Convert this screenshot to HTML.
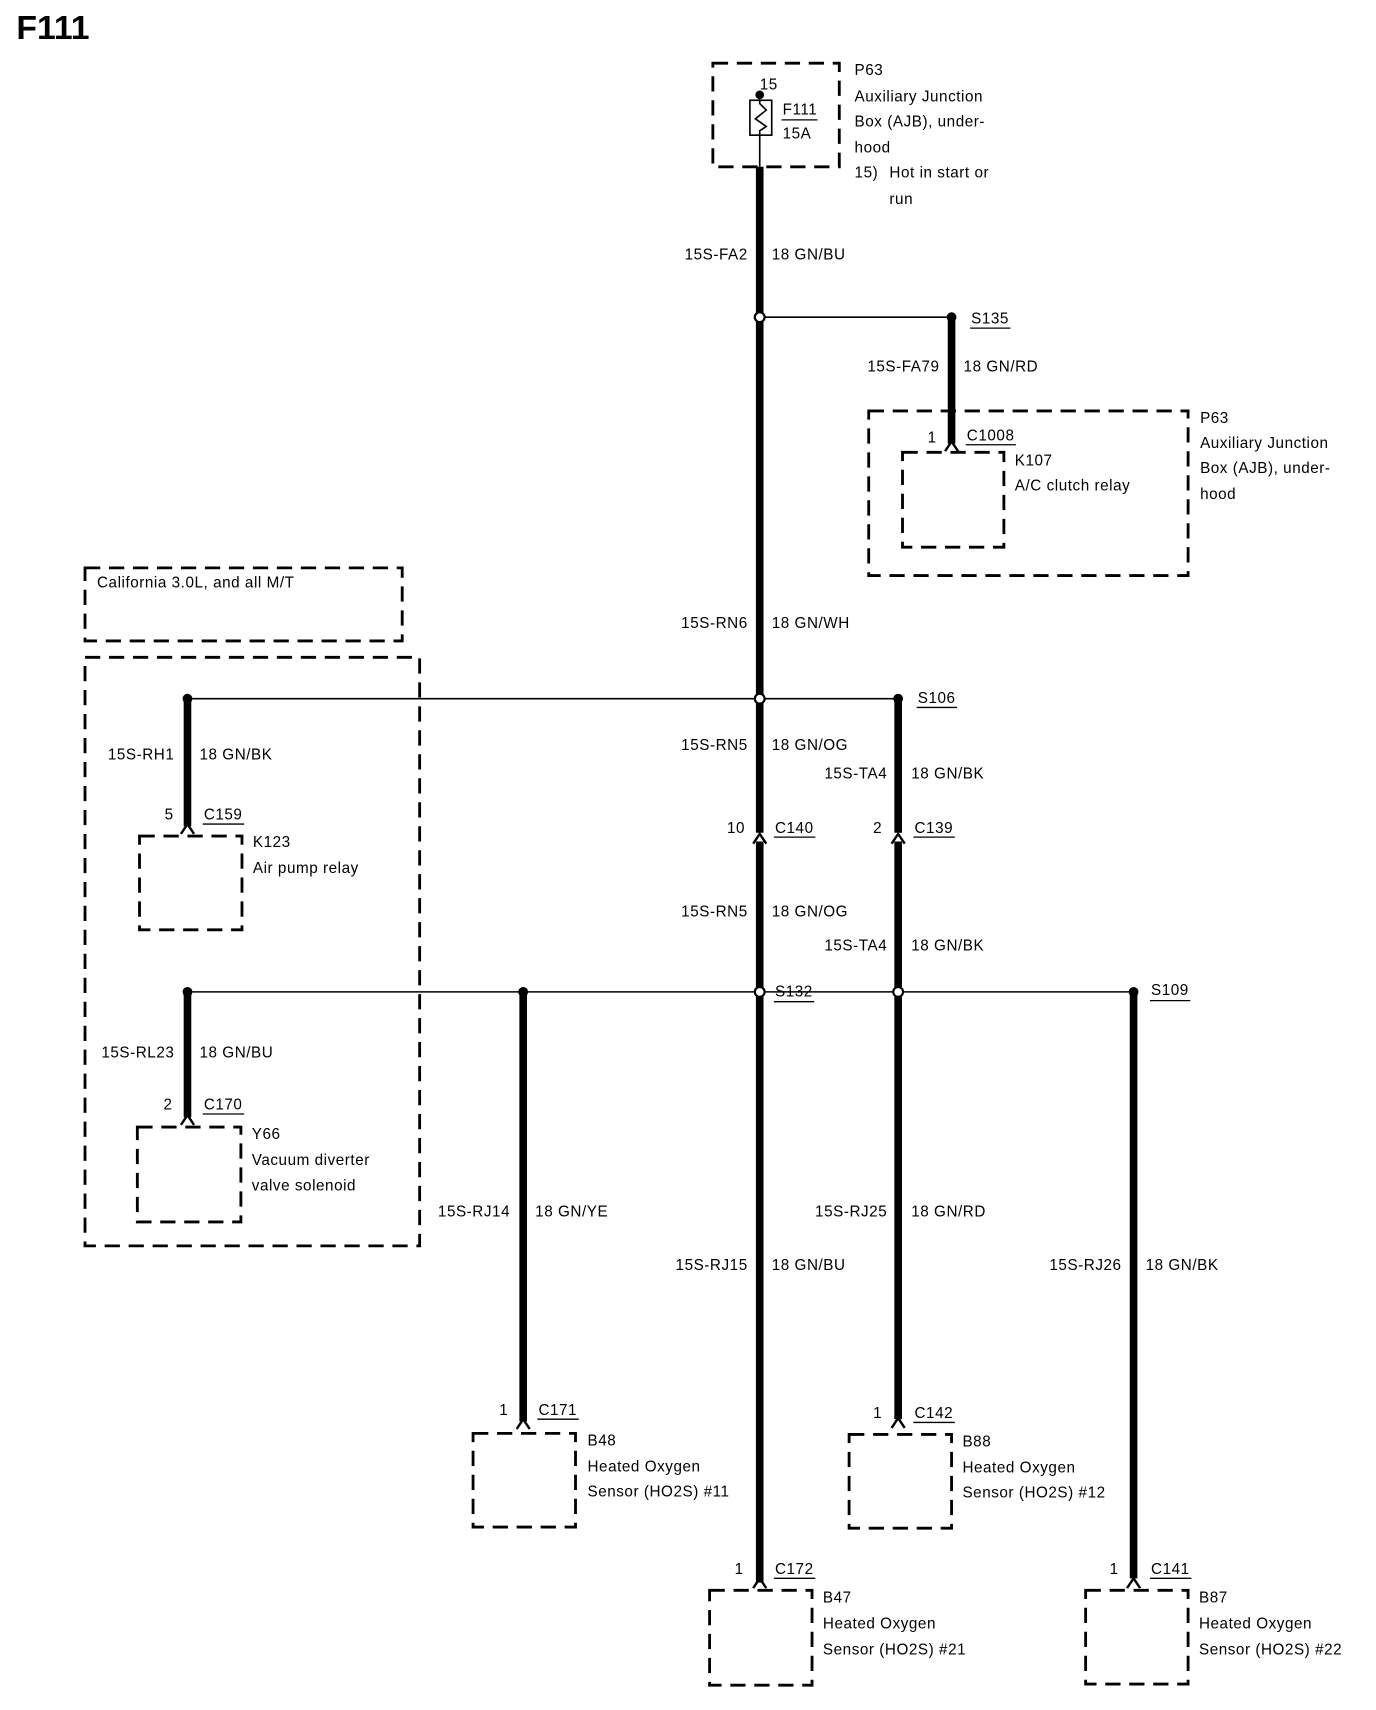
<!DOCTYPE html>
<html><head><meta charset="utf-8"><style>
html,body{margin:0;padding:0;background:#fff;}
svg{display:block;}
text{font-family:"Liberation Sans",Arial,sans-serif;font-size:14px;fill:#000;letter-spacing:0.5px;}
.r{text-anchor:end;}
.d{fill:none;stroke:#000;stroke-width:2.6;stroke-dasharray:14 8;}
.w{stroke:#000;stroke-width:7;}
.t{stroke:#000;stroke-width:1.4;}
.ch{fill:none;stroke:#000;stroke-width:2.2;}
.u{stroke:#000;stroke-width:1.2;}
</style></head><body>
<svg width="1376" height="1710" viewBox="0 0 1262.4 1568.8" preserveAspectRatio="none" xmlns="http://www.w3.org/2000/svg">
<text x="15" y="36" style="font-size:31px;font-weight:bold;letter-spacing:0">F111</text>

<rect class="d" x="654" y="58" width="116" height="95"/>
<rect x="688" y="92" width="20" height="32" fill="none" stroke="#000" stroke-width="1.5"/>
<path d="M697 87 L697 95 L703 101 L693 109 L703 116 L697 120 L697 153" fill="none" stroke="#000" stroke-width="1.5"/>
<circle cx="697" cy="87" r="4"/>
<text x="697" y="82">15</text>
<text x="718" y="105">F111</text><line class="u" x1="717" y1="110" x2="750" y2="110"/>
<text x="718" y="127">15A</text>
<text x="784" y="69">P63</text>
<text x="784" y="93">Auxiliary Junction</text>
<text x="784" y="116">Box (AJB), under-</text>
<text x="784" y="140">hood</text>
<text x="784" y="163">15)</text><text x="816" y="163">Hot in start or</text>
<text x="816" y="187">run</text>

<line class="w" x1="697" y1="153" x2="697" y2="764"/>
<line class="w" x1="697" y1="772" x2="697" y2="1452"/>
<text class="r" x="686" y="238">15S-FA2</text><text x="708" y="238">18 GN/BU</text>

<line class="t" x1="697" y1="291" x2="873" y2="291"/>
<circle cx="697" cy="291" r="4.5" fill="#fff" stroke="#000" stroke-width="2"/>
<circle cx="873" cy="291" r="4.5"/>
<text x="891" y="297">S135</text><line class="u" x1="890" y1="301" x2="927" y2="301"/>
<line class="w" x1="873" y1="291" x2="873" y2="407"/>
<path class="ch" d="M867 414 L873 405 L879 414"/>
<text class="r" x="862" y="341">15S-FA79</text><text x="884" y="341">18 GN/RD</text>
<rect class="d" x="797" y="377" width="293" height="151"/>
<rect class="d" x="828" y="415" width="93" height="87"/>
<text x="851" y="406">1</text>
<text x="887" y="404">C1008</text><line class="u" x1="886" y1="408" x2="932" y2="408"/>
<text x="931" y="427">K107</text>
<text x="931" y="450">A/C clutch relay</text>
<text x="1101" y="388">P63</text>
<text x="1101" y="411">Auxiliary Junction</text>
<text x="1101" y="434">Box (AJB), under-</text>
<text x="1101" y="458">hood</text>

<text class="r" x="686" y="576">15S-RN6</text><text x="708" y="576">18 GN/WH</text>

<rect class="d" x="78" y="521" width="291" height="67"/>
<text x="89" y="539">California 3.0L, and all M/T</text>
<rect class="d" x="78" y="603" width="307" height="540"/>

<line class="t" x1="172" y1="641" x2="824" y2="641"/>
<circle cx="172" cy="641" r="4.5"/>
<circle cx="697" cy="641" r="4.5" fill="#fff" stroke="#000" stroke-width="2"/>
<circle cx="824" cy="641" r="4.5"/>
<text x="842" y="645">S106</text><line class="u" x1="841" y1="649" x2="878" y2="649"/>

<line class="w" x1="172" y1="641" x2="172" y2="758"/>
<path class="ch" d="M166 765 L172 756 L178 765"/>
<text class="r" x="160" y="697">15S-RH1</text><text x="183" y="697">18 GN/BK</text>
<text x="151" y="752">5</text>
<text x="187" y="752">C159</text><line class="u" x1="186" y1="756" x2="224" y2="756"/>
<rect class="d" x="128" y="767" width="94" height="86"/>
<text x="232" y="777">K123</text>
<text x="232" y="801">Air pump relay</text>

<text class="r" x="686" y="688">15S-RN5</text><text x="708" y="688">18 GN/OG</text>
<text class="r" x="814" y="714">15S-TA4</text><text x="836" y="714">18 GN/BK</text>

<line class="w" x1="824" y1="641" x2="824" y2="764"/>
<line class="w" x1="824" y1="772" x2="824" y2="1302"/>
<path class="ch" d="M691 774 L697 765 L703 774"/>
<path class="ch" d="M818 774 L824 765 L830 774"/>
<text x="667" y="764">10</text>
<text x="711" y="764">C140</text><line class="u" x1="710" y1="768" x2="748" y2="768"/>
<text x="801" y="764">2</text>
<text x="839" y="764">C139</text><line class="u" x1="838" y1="768" x2="876" y2="768"/>

<text class="r" x="686" y="841">15S-RN5</text><text x="708" y="841">18 GN/OG</text>
<text class="r" x="814" y="872">15S-TA4</text><text x="836" y="872">18 GN/BK</text>

<line class="t" x1="172" y1="910" x2="1040" y2="910"/>
<circle cx="172" cy="910" r="4.5"/>
<circle cx="480" cy="910" r="4.5"/>
<circle cx="697" cy="910" r="4.5" fill="#fff" stroke="#000" stroke-width="2"/>
<circle cx="824" cy="910" r="4.5" fill="#fff" stroke="#000" stroke-width="2"/>
<circle cx="1040" cy="910" r="4.5"/>
<text x="711" y="914">S132</text><line class="u" x1="710" y1="919" x2="747" y2="919"/>
<text x="1056" y="913">S109</text><line class="u" x1="1055" y1="918" x2="1092" y2="918"/>

<line class="w" x1="172" y1="910" x2="172" y2="1025"/>
<path class="ch" d="M166 1032 L172 1023 L178 1032"/>
<text class="r" x="160" y="970">15S-RL23</text><text x="183" y="970">18 GN/BU</text>
<text x="150" y="1018">2</text>
<text x="187" y="1018">C170</text><line class="u" x1="186" y1="1022" x2="224" y2="1022"/>
<rect class="d" x="126" y="1034" width="95" height="87"/>
<text x="231" y="1045">Y66</text>
<text x="231" y="1069">Vacuum diverter</text>
<text x="231" y="1092">valve solenoid</text>

<line class="w" x1="480" y1="910" x2="480" y2="1304"/>
<path class="ch" d="M474 1311 L480 1302 L486 1311"/>
<text class="r" x="468" y="1116">15S-RJ14</text><text x="491" y="1116">18 GN/YE</text>

<text class="r" x="686" y="1165">15S-RJ15</text><text x="708" y="1165">18 GN/BU</text>
<text class="r" x="814" y="1116">15S-RJ25</text><text x="836" y="1116">18 GN/RD</text>

<line class="w" x1="1040" y1="910" x2="1040" y2="1448"/>
<text class="r" x="1029" y="1165">15S-RJ26</text><text x="1051" y="1165">18 GN/BK</text>

<text x="458" y="1298">1</text>
<text x="494" y="1298">C171</text><line class="u" x1="493" y1="1302" x2="531" y2="1302"/>
<rect class="d" x="434" y="1315" width="94" height="86"/>
<text x="539" y="1326">B48</text>
<text x="539" y="1350">Heated Oxygen</text>
<text x="539" y="1373">Sensor (HO2S) #11</text>

<path class="ch" d="M818 1310 L824 1301 L830 1310"/>
<text x="801" y="1301">1</text>
<text x="839" y="1301">C142</text><line class="u" x1="838" y1="1305" x2="876" y2="1305"/>
<rect class="d" x="779" y="1316" width="94" height="86"/>
<text x="883" y="1327">B88</text>
<text x="883" y="1351">Heated Oxygen</text>
<text x="883" y="1374">Sensor (HO2S) #12</text>

<path class="ch" d="M691 1457 L697 1448 L703 1457"/>
<text x="674" y="1444">1</text>
<text x="711" y="1444">C172</text><line class="u" x1="710" y1="1448" x2="748" y2="1448"/>
<rect class="d" x="651" y="1459" width="94" height="87"/>
<text x="755" y="1470">B47</text>
<text x="755" y="1494">Heated Oxygen</text>
<text x="755" y="1518">Sensor (HO2S) #21</text>

<path class="ch" d="M1034 1457 L1040 1448 L1046 1457"/>
<text x="1018" y="1444">1</text>
<text x="1056" y="1444">C141</text><line class="u" x1="1055" y1="1448" x2="1093" y2="1448"/>
<rect class="d" x="996" y="1459" width="94" height="86"/>
<text x="1100" y="1470">B87</text>
<text x="1100" y="1494">Heated Oxygen</text>
<text x="1100" y="1518">Sensor (HO2S) #22</text>
</svg>
</body></html>
